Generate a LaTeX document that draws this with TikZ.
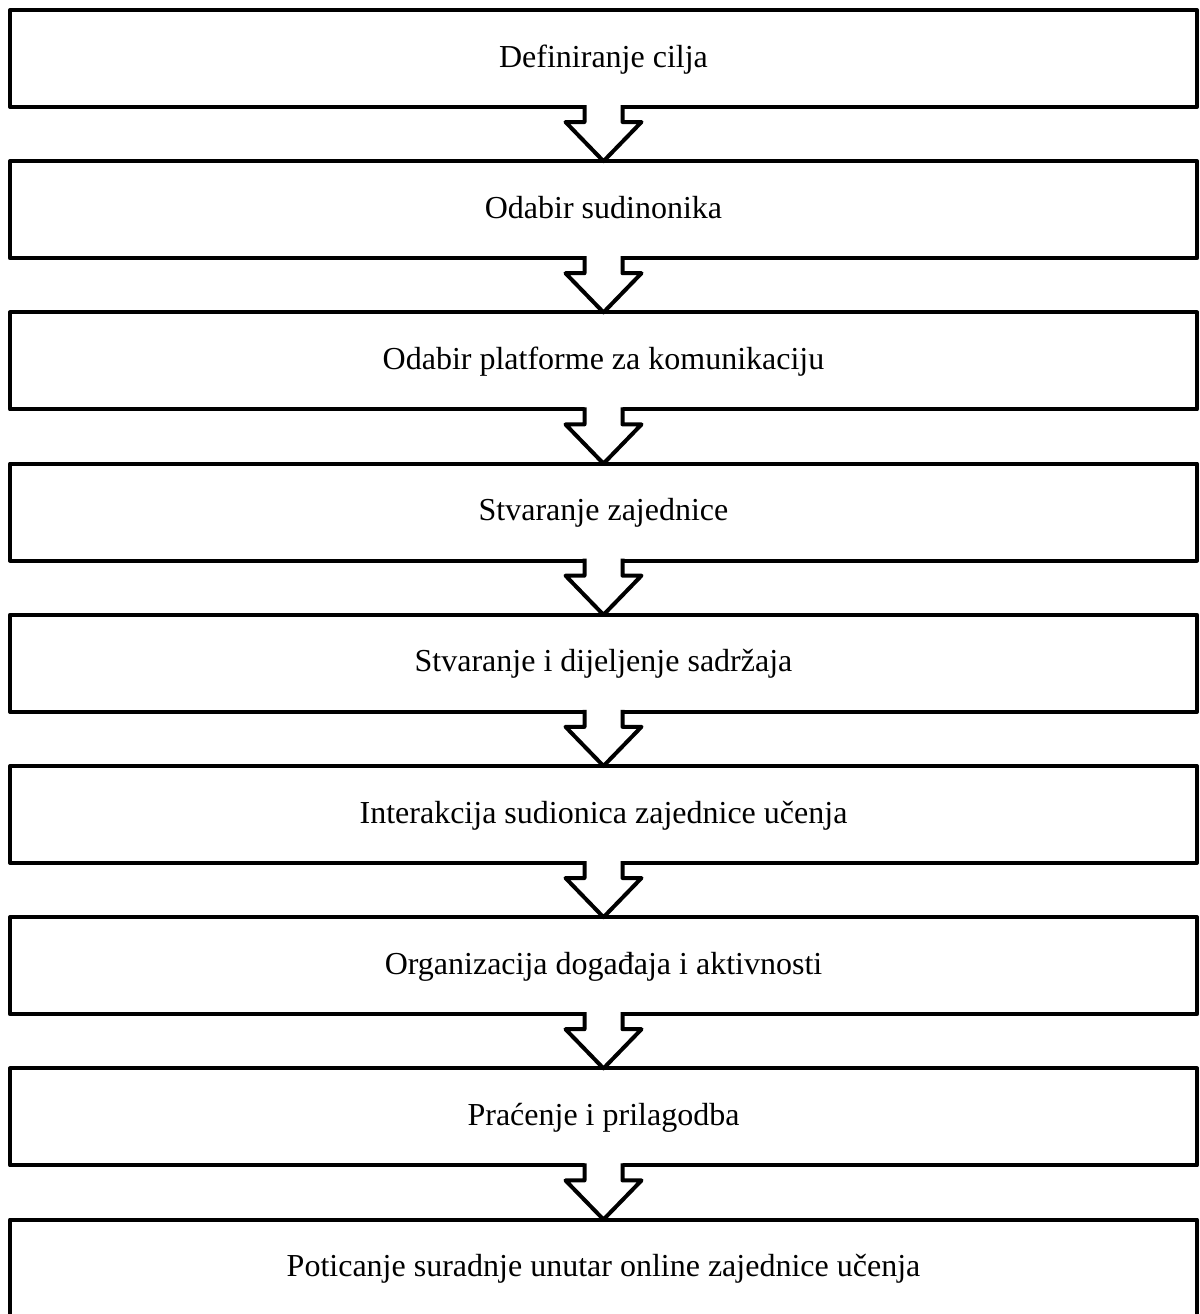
\documentclass[tikz,border=0pt]{standalone}
\usepackage{fontspec}
\setmainfont{Liberation Serif}
\usetikzlibrary{calc}
\newcommand\flowarr[2]{%
  \fill[white] ($(#1.south)+(-19,-3)$) -- ($(#1.south)+(19,-3)$) -- ($(#1.south)+(19,15)$) -- ($(#1.south)+(38,15)$) -- (#2.north) -- ($(#1.south)+(-38,15)$) -- ($(#1.south)+(-19,15)$) -- cycle;
  \draw[flowarrow] ($(#1.south)+(-19,-2)$) -- ($(#1.south)+(-19,15)$) -- ($(#1.south)+(-38,15)$) -- (#2.north) -- ($(#1.south)+(38,15)$) -- ($(#1.south)+(19,15)$) -- ($(#1.south)+(19,-2)$);
}
\begin{document}
\begin{tikzpicture}[x=0.5pt,y=-0.5pt,
  stepbox/.style={draw=black, fill=white, line width=2pt, line join=round,
    minimum width=593.5pt, minimum height=48.5pt, inner sep=0pt, outer sep=0pt,
    font=\fontsize{16}{19}\selectfont, text height=11.5pt, text depth=3pt},
  flowarrow/.style={draw=black, line width=2pt, line join=round}]
\useasboundingbox (0,0) rectangle (1200,1314);
\node[stepbox] (n1) at (603.5,58.5) {Definiranje cilja};
\node[stepbox] (n2) at (603.5,209.7) {Odabir sudinonika};
\node[stepbox] (n3) at (603.5,360.9) {Odabir platforme za komunikaciju};
\node[stepbox] (n4) at (603.5,512.1) {Stvaranje zajednice};
\node[stepbox] (n5) at (603.5,663.3) {Stvaranje i dijeljenje sadržaja};
\node[stepbox] (n6) at (603.5,814.5) {Interakcija sudionica zajednice učenja};
\node[stepbox] (n7) at (603.5,965.7) {Organizacija događaja i aktivnosti};
\node[stepbox] (n8) at (603.5,1116.9) {Praćenje i prilagodba};
\node[stepbox] (n9) at (603.5,1268.0) {Poticanje suradnje unutar online zajednice učenja};
\flowarr{n1}{n2}
\flowarr{n2}{n3}
\flowarr{n3}{n4}
\flowarr{n4}{n5}
\flowarr{n5}{n6}
\flowarr{n6}{n7}
\flowarr{n7}{n8}
\flowarr{n8}{n9}
\end{tikzpicture}
\end{document}
